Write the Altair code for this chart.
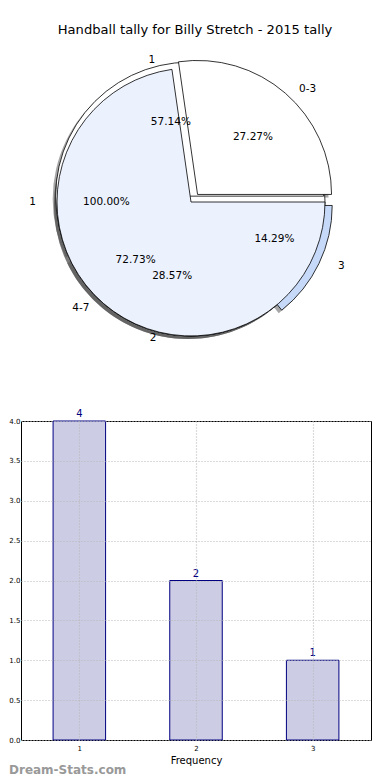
import altair as alt
import pandas as pd

TITLE = "Handball tally for Billy Stretch - 2015 tally"
WATERMARK = "Dream-Stats.com"

# ---- data: three overlapping pies ----
pie1_labels = ["0-3", "4-7"]
pie1_values = [3, 8]
pie2_labels = ["1", "2", "3"]
pie2_values = [4, 2, 1]
pie3_labels = ["1"]
pie3_values = [1]

# ---- data: bar chart ----
bar_categories = [1, 2, 3]
bar_freq = [4, 2, 1]
y_tick_values = [0.0, 0.5, 1.0, 1.5, 2.0, 2.5, 3.0, 3.5, 4.0]

# ---- styles ----
pie1_explode = [10, 0]
pie1_colors = ["#ffffff", "#ebf1fd"]
pie2_explode = [6, 0, 8]
pie2_colors = ["#ffffff", "#ffffff", "#c6d9f8"]
pie3_explode = [0]
pie3_colors = ["#ffffff"]

FONT = "DejaVu Sans"
CX, CY = 170, 194      # pie centre inside the pie panel (px)
R = 134                # wedge radius (px)
RX, RY = 141, 127      # radii used for label placement (px)
PIE_W, PIE_H = 350, 413
BAR_W, BAR_H = 350, 319


def pie_frame(labels, values, explode, colors):
    return pd.DataFrame({
        "i": list(range(len(labels))),
        "label": labels,
        "value": values,
        "ex": explode,
        "fill": colors,
    })


def pie_base(df):
    return (
        alt.Chart(df)
        .transform_window(cum="sum(value)", frame=[None, 0], sort=[alt.SortField("i")])
        .transform_joinaggregate(total="sum(value)")
        .transform_calculate(
            a0="2*PI*(datum.cum-datum.value)/datum.total",
            a1="2*PI*datum.cum/datum.total",
        )
        .transform_calculate(am="(datum.a0+datum.a1)/2")
        .transform_calculate(
            cx=f"{CX} + datum.ex*cos(datum.am)",
            cy=f"{CY} - datum.ex*sin(datum.am)",
            t0="2.5*PI - datum.a1",
            t1="2.5*PI - datum.a0",
            pct="format(100*datum.value/datum.total, '.2f') + '%'",
        )
        .transform_calculate(
            sx="datum.cx - 3",
            sy="datum.cy + 3",
            lx=f"datum.cx + 1.1*{RX}*cos(datum.am)",
            ly=f"datum.cy - 1.1*{RY}*sin(datum.am)",
            px=f"datum.cx + 0.6*{RX}*cos(datum.am)",
            py=f"datum.cy - 0.6*{RY}*sin(datum.am)",
            side="cos(datum.am) > 0 ? 'L' : 'R'",
        )
    )


def xy(fx, fy):
    return dict(
        x=alt.X(f"{fx}:Q", scale=None, axis=None),
        y=alt.Y(f"{fy}:Q", scale=None, axis=None),
    )


pies = [
    pie_base(pie_frame(pie3_labels, pie3_values, pie3_explode, pie3_colors)),
    pie_base(pie_frame(pie2_labels, pie2_values, pie2_explode, pie2_colors)),
    pie_base(pie_frame(pie1_labels, pie1_values, pie1_explode, pie1_colors)),
]

layers = []
for p in pies:
    layers.append(
        p.mark_arc(radius=R, fill="#4d4d4d", opacity=0.5, strokeWidth=0).encode(
            theta=alt.Theta("t0:Q", scale=None), theta2="t1:Q", **xy("sx", "sy")
        )
    )
for p in pies:
    layers.append(
        p.mark_arc(radius=R, stroke="black", strokeWidth=0.8).encode(
            theta=alt.Theta("t0:Q", scale=None), theta2="t1:Q",
            fill=alt.Fill("fill:N", scale=None), **xy("cx", "cy")
        )
    )
for p in pies:
    layers.append(
        p.transform_filter("datum.side == 'L'")
        .mark_text(align="left", baseline="middle", font=FONT, fontSize=10.5, color="black")
        .encode(text="label:N", **xy("lx", "ly"))
    )
    layers.append(
        p.transform_filter("datum.side == 'R'")
        .mark_text(align="right", baseline="middle", font=FONT, fontSize=10.5, color="black")
        .encode(text="label:N", **xy("lx", "ly"))
    )
    layers.append(
        p.mark_text(align="center", baseline="middle", font=FONT, fontSize=10.5, color="black")
        .encode(text="pct:N", **xy("px", "py"))
    )

title_mark = alt.Chart(pd.DataFrame({"t": [TITLE]})).mark_text(
    font=FONT, fontSize=13.1, color="black", align="center", baseline="middle"
).encode(text="t:N", x=alt.value(174), y=alt.value(22))
layers.append(title_mark)

pie_chart = alt.layer(*layers).properties(
    width=PIE_W, height=PIE_H, view=alt.ViewBackground(stroke=None)
)

# ---- bar chart ----
bar_df = pd.DataFrame({"cat": bar_categories, "freq": bar_freq})
x_scale = alt.Scale(domain=[0.5, 3.5], nice=False, zero=False)
y_scale = alt.Scale(domain=[0, 4], nice=False)

GRID = dict(grid=True, gridColor="#b8b8b8", gridDash=[1, 2], gridWidth=1.2, zindex=1)

x_axis = alt.Axis(
    values=bar_categories, format="d", title="Frequency",
    titleFont=FONT, titleFontSize=10, titleFontWeight="normal", titlePadding=4,
    titleColor="black", labelColor="black",
    labelFont=FONT, labelFontSize=7, labelPadding=4, tickSize=0, domain=False,
    labelOverlap=False, **GRID,
)
y_axis = alt.Axis(
    values=y_tick_values, format=".1f", title=None,
    labelFont=FONT, labelFontSize=7, labelPadding=1, tickSize=0, domain=False,
    labelColor="black",
    labelOverlap=False, labelBound=False, labelFlush=False, **GRID,
)

bars = (
    alt.Chart(bar_df)
    .transform_calculate(x0="datum.cat - 0.225", x1="datum.cat + 0.225")
    .mark_bar(fill="#ccccE4", stroke="#000080", strokeWidth=1)
    .encode(
        x=alt.X("x0:Q", scale=x_scale, axis=x_axis),
        x2="x1:Q",
        y=alt.Y("freq:Q", scale=y_scale, axis=y_axis),
        y2=alt.datum(0),
    )
)

bar_text = alt.Chart(bar_df).mark_text(
    dy=-7, color="#000080", font=FONT, fontSize=10, baseline="middle"
).encode(
    x=alt.X("cat:Q", scale=x_scale, axis=x_axis),
    y=alt.Y("freq:Q", scale=y_scale, axis=y_axis),
    text="freq:Q",
)

wm = alt.Chart(pd.DataFrame({"t": [WATERMARK]})).mark_text(
    font=FONT, fontSize=12, fontWeight="bold", color="#999999", align="left", baseline="middle"
).encode(text="t:N", x=alt.value(-12), y=alt.value(BAR_H + 30))

bar_chart = alt.layer(bars, bar_text, wm).properties(
    width=BAR_W, height=BAR_H, view=alt.ViewBackground(stroke="black", strokeWidth=1)
)

chart = alt.vconcat(pie_chart, bar_chart, spacing=0, bounds="flush").properties(
    padding=0
).configure(background="white")

chart.save("out.html", embed_options={"renderer": "svg", "actions": False})
